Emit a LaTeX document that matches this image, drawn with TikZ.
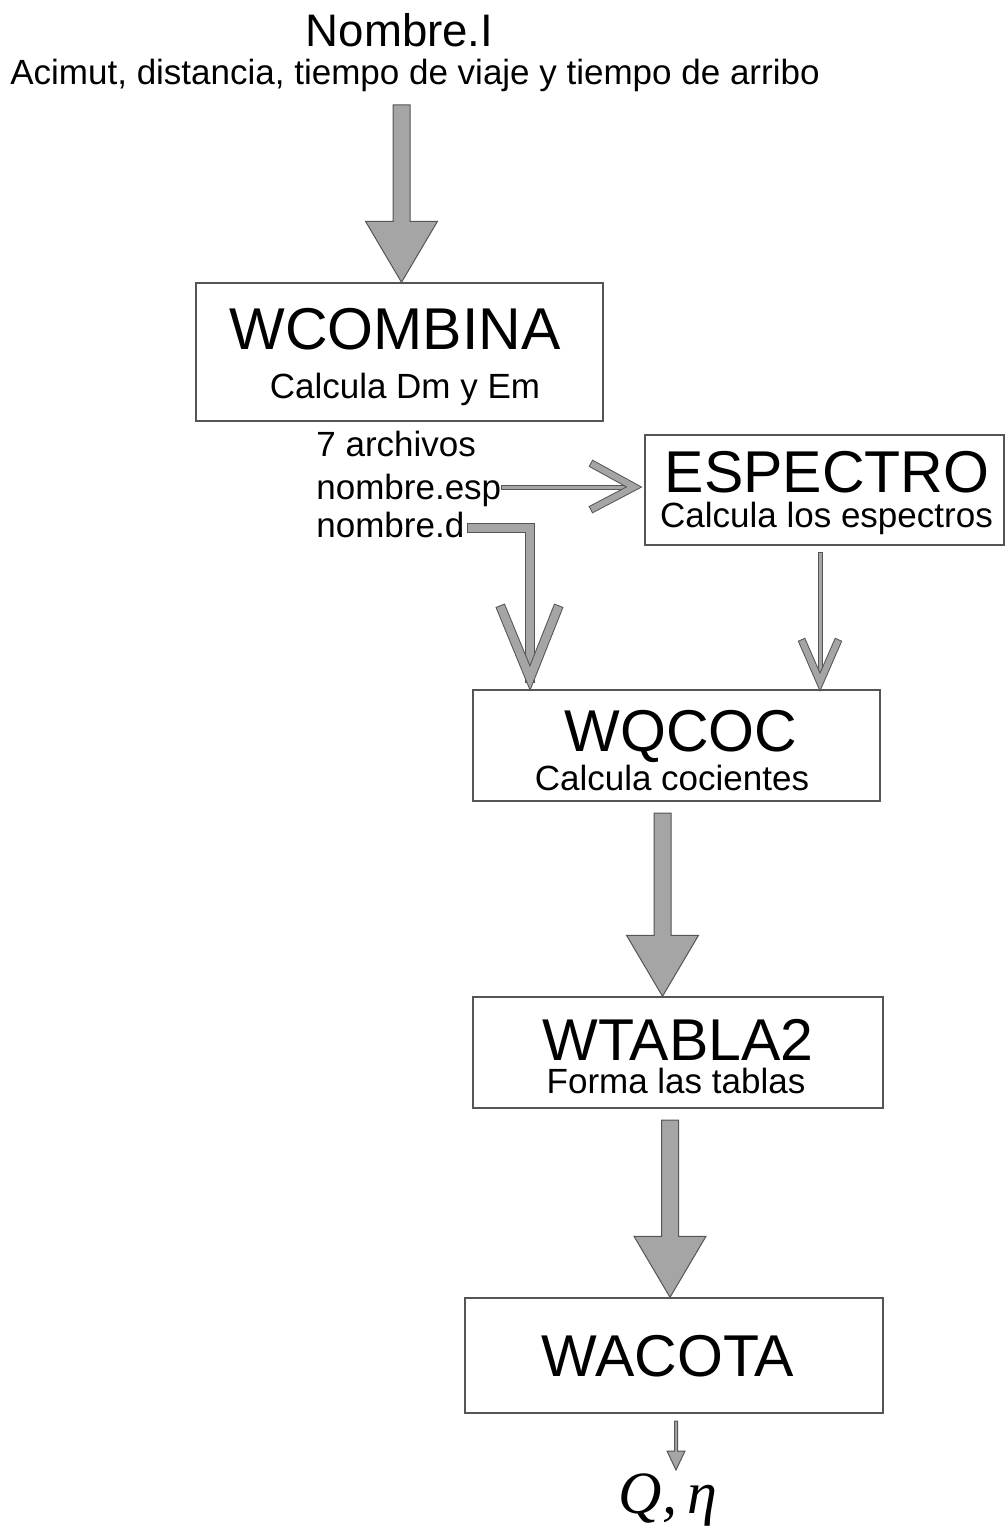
\documentclass[tikz,border=0pt]{standalone}
\usepackage{fontspec}
\setmainfont{Liberation Sans}
\newfontfamily\serifit{Liberation Serif}
\usetikzlibrary{calc}
\definecolor{agray}{RGB}{165,165,165}
\definecolor{dgray}{RGB}{85,85,85}
\tikzset{
  box/.style={draw=dgray, line width=0.7pt, inner sep=0pt, rectangle},
  barrow/.style={fill=agray, draw=dgray, line width=0.5pt, line join=miter},
  olin/.style 2 args={draw=dgray, line width=#2, line cap=rect, line join=miter,
    postaction={draw=agray, line width=#1}},
  title/.style={font=\fontsize{29.5}{30}\selectfont, inner sep=0pt, anchor=base},
  sub/.style={font=\fontsize{17.5}{18}\selectfont, inner sep=0pt, anchor=base},
  subl/.style={sub, anchor=base west},
}
\newcommand\bigarrow[2]{\path[barrow] let \p1=(#1), \p2=(#2) in
  (\x1-4.25pt,\y1) -- (\x1+4.25pt,\y1) -- (\x1+4.25pt,\y2+30.5pt) -- (\x1+18pt,\y2+30.5pt)
  -- (\x1,\y2) -- (\x1-18pt,\y2+30.5pt) -- (\x1-4.25pt,\y2+30.5pt) -- cycle;}
\begin{document}
\begin{tikzpicture}[x=0.5pt,y=-0.5pt]
\useasboundingbox (0,0) rectangle (1005,1529);
% boxes
\node[box, minimum width=203.5pt, minimum height=69pt] (wcombina) at (399.5,352) {};
\node[box, minimum width=179.5pt, minimum height=55pt] (espectro) at (824.5,490) {};
\node[box, minimum width=203.5pt, minimum height=55.5pt] (wqcoc) at (676.5,745.5) {};
\node[box, minimum width=205pt, minimum height=55.5pt] (wtabla) at (678,1052.5) {};
\node[box, minimum width=209pt, minimum height=57.5pt] (wacota) at (674,1355.5) {};
% texts
\node[font=\fontsize{22.8}{24}\selectfont, inner sep=0pt, anchor=base] (nombre) at (399.5,47) {Nombre.I};
\node[sub] (acimut) at (415,85) {Acimut, distancia, tiempo de viaje y tiempo de arribo};
\node[title] (twcombina) at (395,350) {WCOMBINA};
\node[sub] (swcombina) at (405,399) {Calcula Dm y Em};
\node[subl] (arch) at (316,457) {7 archivos};
\node[subl] (nesp) at (316,499) {nombre.esp};
\node[subl] (nd) at (316,537) {nombre.d};
\node[title] (tespectro) at (827,492) {ESPECTRO};
\node[sub] (sespectro) at (826.5,527) {Calcula los espectros};
\node[title] (twqcoc) at (681,751) {WQCOC};
\node[sub] (swqcoc) at (672,790) {Calcula cocientes};
\node[title] (twtabla) at (678,1060) {WTABLA2};
\node[sub] (swtabla) at (676,1093) {Forma las tablas};
\node[title] (twacota) at (668,1376) {WACOTA};
\node[font=\fontsize{30}{32}\selectfont\serifit\itshape, inner sep=0pt, anchor=base] (qeta) at (668,1513) {Q,\,η};
% big arrows
\coordinate (a1) at (401.5,105);
\bigarrow{a1}{a1 |- wcombina.north}
\coordinate (a2) at (662.5,813);
\bigarrow{a2}{a2 |- wtabla.north}
\coordinate (a3) at (670,1120);
\bigarrow{a3}{a3 |- wacota.north}
% nombre.esp -> ESPECTRO
\coordinate (e1) at (503,487);
\coordinate (e2) at (634,487);
\path[olin={1.5pt}{2.5pt}] (e1) -- (e2);
\path[olin={3pt}{4pt}] ($(e2)+(-40,-22)$) -- (e2) -- ($(e2)+(-40,21)$);
% nombre.d -> WQCOC
\coordinate (d1) at (472,528);
\coordinate (d2) at (530,678);
\path[olin={4pt}{5pt}] (d1) -- (d1 -| d2) -- (d2);
\path[olin={4pt}{5pt}] ($(d2)+(-28,-68)$) -- (d2) -- ($(d2)+(27,-68)$);
% ESPECTRO -> WQCOC
\coordinate (s1) at (820,554);
\coordinate (s2) at (820,682);
\path[olin={1.5pt}{2.5pt}] (s1) -- (s2);
\path[olin={3pt}{4pt}] ($(s2)+(-17,-39)$) -- (s2) -- ($(s2)+(17,-39)$);
% WACOTA -> Q,eta
\coordinate (q1) at (676,1421);
\coordinate (q2) at (676,1470);
\path[barrow] (674.5,1421) -- (677.5,1421) -- (677.5,1451) -- (685,1451) -- (q2) -- (667,1451) -- (674.5,1451) -- cycle;
\end{tikzpicture}
\end{document}
